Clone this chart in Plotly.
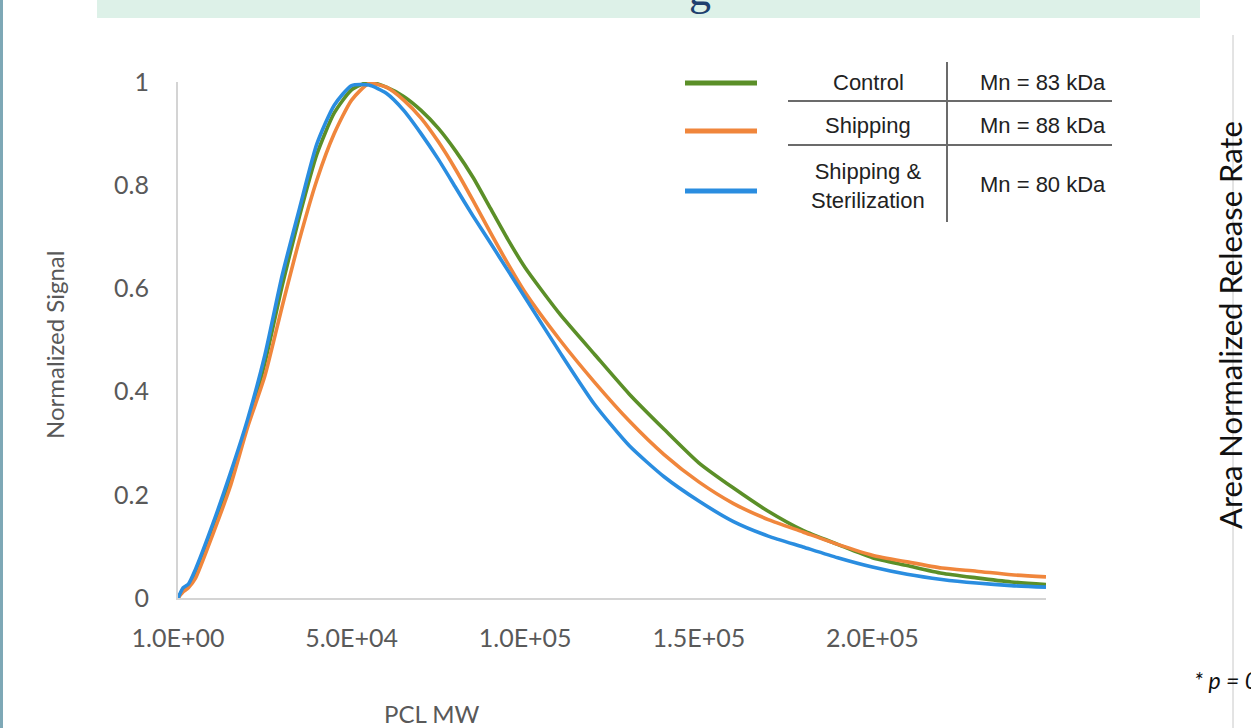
import plotly.graph_objects as go

# ---------------- data ----------------
mw = [0, 1500, 3000, 5000, 10000, 15000, 20000, 25000, 30000, 35000, 40000, 45000,
      50000, 55000, 60000, 65000, 70000, 75000, 80000, 85000, 90000, 95000, 100000,
      110000, 120000, 130000, 140000, 150000, 160000, 170000, 180000, 190000, 200000,
      210000, 220000, 230000, 240000, 250000]

control = [0, 0.016, 0.022, 0.048, 0.135, 0.23, 0.335, 0.455, 0.605, 0.74, 0.86, 0.94,
           0.985, 1.0, 0.99, 0.972, 0.945, 0.91, 0.866, 0.815, 0.755, 0.695, 0.64,
           0.55, 0.472, 0.395, 0.327, 0.262, 0.213, 0.168, 0.131, 0.104, 0.078,
           0.063, 0.048, 0.039, 0.031, 0.026]

shipping = [0, 0.012, 0.02, 0.038, 0.123, 0.215, 0.33, 0.43, 0.565, 0.695, 0.81, 0.90,
            0.965, 0.997, 0.99, 0.965, 0.93, 0.884, 0.83, 0.77, 0.708, 0.648, 0.592,
            0.50, 0.418, 0.343, 0.278, 0.225, 0.183, 0.152, 0.128, 0.104, 0.083,
            0.07, 0.058, 0.052, 0.045, 0.041]

ship_steril = [0, 0.02, 0.027, 0.055, 0.143, 0.24, 0.345, 0.47, 0.625, 0.755, 0.88, 0.955,
               0.993, 0.994, 0.978, 0.945, 0.90, 0.85, 0.795, 0.74, 0.688, 0.635, 0.582,
               0.476, 0.375, 0.295, 0.235, 0.188, 0.148, 0.12, 0.099, 0.078, 0.06,
               0.046, 0.036, 0.029, 0.024, 0.021]

series_names = ["Control", "Shipping", "Shipping &<br>Sterilization"]
mn_labels = ["Mn = 83 kDa", "Mn = 88 kDa", "Mn = 80 kDa"]

x_tickvals = [0, 50000, 100000, 150000, 200000]
x_ticktext = ["1.0E+00", "5.0E+04", "1.0E+05", "1.5E+05", "2.0E+05"]
y_tickvals = [0, 0.2, 0.4, 0.6, 0.8, 1]
y_ticktext = ["0", "0.2", "0.4", "0.6", "0.8", "1"]

colors = ["#5b8f28", "#f0863c", "#2a8de0"]

# ---------------- figure ----------------
W, H = 1251, 728
L, R, T, B = 178, 1046, 82, 598


def X(px):
    return (px - L) / (R - L)


def Y(py):
    return (B - py) / (B - T)


fig = go.Figure()
for ys, c in zip([control, shipping, ship_steril], colors):
    fig.add_trace(go.Scatter(x=mw, y=ys, mode="lines",
                             line=dict(color=c, width=3.6, shape="spline", smoothing=0.6),
                             showlegend=False, hoverinfo="skip"))

grey = "#595959"
FAM = "Lato, Open Sans, sans-serif"

fig.update_layout(
    width=W, height=H,
    margin=dict(l=L, r=W - R, t=T, b=H - B, pad=0),
    paper_bgcolor="white", plot_bgcolor="white",
    xaxis=dict(range=[0, 250000], tickvals=x_tickvals, ticktext=x_ticktext,
               showgrid=False, zeroline=False, showline=True, linecolor="#d4d4d4",
               linewidth=2, ticks="", tickfont=dict(family=FAM, size=25, color=grey),
               ticklabelstandoff=17),
    yaxis=dict(range=[0, 1.0], tickvals=y_tickvals, ticktext=y_ticktext,
               showgrid=False, zeroline=False, showline=True, linecolor="#d4d4d4",
               linewidth=2, ticks="", tickfont=dict(family=FAM, size=25, color=grey),
               ticklabelstandoff=22),
)

shapes = []
annos = []

# slide decorations
shapes.append(dict(type="rect", xref="paper", yref="paper", x0=X(97), x1=X(1200),
                   y0=Y(18), y1=Y(-5), fillcolor="#ddf1e8", line=dict(width=0), layer="below"))
shapes.append(dict(type="rect", xref="paper", yref="paper", x0=X(-2), x1=X(3),
                   y0=Y(730), y1=Y(-2), fillcolor="#7ea8b6", line=dict(width=0)))

annos.append(dict(xref="paper", yref="paper", x=X(700), y=Y(17), xanchor="center", yanchor="bottom",
                  text="g", showarrow=False,
                  font=dict(family="Liberation Serif, serif", size=44, color="#1f3f6e")))

# axis titles
annos.append(dict(xref="paper", yref="paper", x=X(54), y=Y(345), text="Normalized Signal",
                  textangle=-90, showarrow=False, xanchor="center", yanchor="middle",
                  font=dict(family=FAM, size=24, color=grey)))
annos.append(dict(xref="paper", yref="paper", x=X(431), y=Y(713), text="PCL MW",
                  showarrow=False, xanchor="center", yanchor="middle",
                  font=dict(family=FAM, size=24, color=grey)))

# right side partial texts
annos.append(dict(xref="paper", yref="paper", x=X(1230), y=Y(325), text="Area Normalized Release Rate",
                  textangle=-90, showarrow=False, xanchor="center", yanchor="middle",
                  font=dict(family=FAM, size=31, color="#111111")))
annos.append(dict(xref="paper", yref="paper", x=X(1192), y=Y(680), text="<i>* p = 0.05</i>",
                  showarrow=False, xanchor="left", yanchor="middle",
                  font=dict(family=FAM, size=23, color="#111111")))
shapes.append(dict(type="line", xref="paper", yref="paper", x0=X(1233), x1=X(1233),
                   y0=Y(35), y1=Y(730), line=dict(color="#c8c8c8", width=1)))

# custom legend table
leg_y = [83, 131, 191]
name_y = [82, 125, 186]
mn_y = [82, 125, 184]
tfont = dict(family="Liberation Sans, Arial, sans-serif", size=22, color="#222222")
for i in range(3):
    shapes.append(dict(type="line", xref="paper", yref="paper", x0=X(685), x1=X(757),
                       y0=Y(leg_y[i]), y1=Y(leg_y[i]), line=dict(color=colors[i], width=5)))
    annos.append(dict(xref="paper", yref="paper", x=X(868), y=Y(name_y[i]), text=series_names[i],
                      showarrow=False, xanchor="center", yanchor="middle", font=tfont))
    annos.append(dict(xref="paper", yref="paper", x=X(1043), y=Y(mn_y[i]), text=mn_labels[i],
                      showarrow=False, xanchor="center", yanchor="middle", font=tfont))
for yy in [101, 145]:
    shapes.append(dict(type="line", xref="paper", yref="paper", x0=X(788), x1=X(1112),
                       y0=Y(yy), y1=Y(yy), line=dict(color="#6b6b6b", width=2)))
shapes.append(dict(type="line", xref="paper", yref="paper", x0=X(947), x1=X(947),
                   y0=Y(62), y1=Y(222), line=dict(color="#6b6b6b", width=2)))

fig.update_layout(shapes=shapes, annotations=annos)
fig.write_html("out.html")
